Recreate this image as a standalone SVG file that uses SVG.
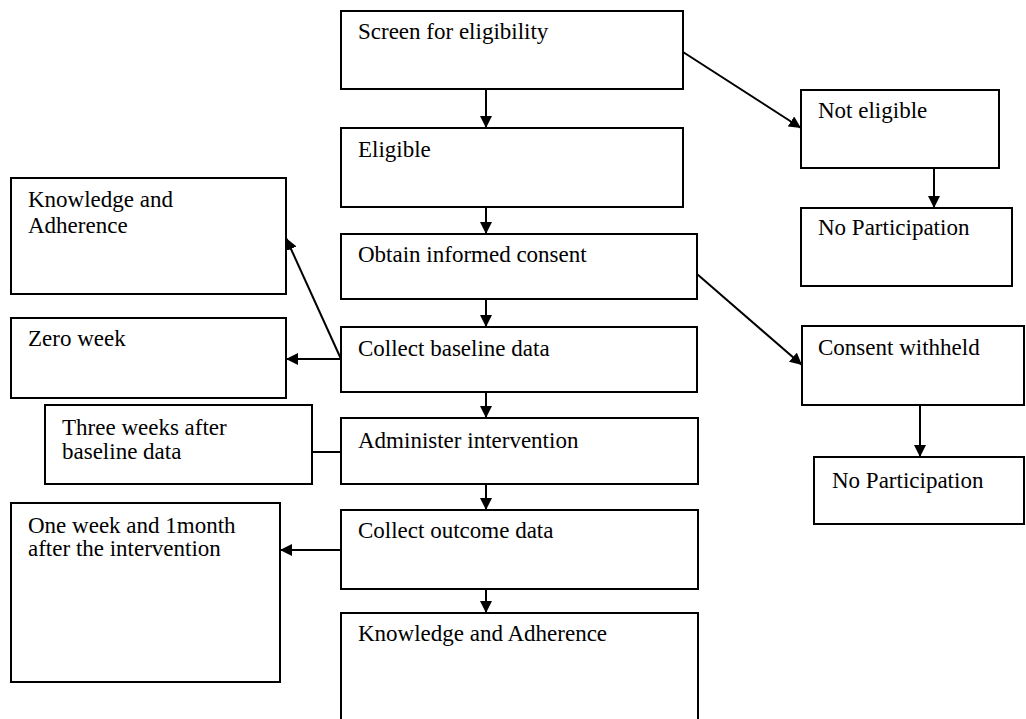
<svg xmlns="http://www.w3.org/2000/svg" width="1026" height="719" viewBox="0 0 1026 719">
<style>
.box{fill:#fff;stroke:#000;stroke-width:2}
.t{font-family:"Liberation Serif","Times New Roman",serif;font-size:23px;fill:#000}
.c{stroke:#000;stroke-width:2;fill:none}
</style>
<defs>
<marker id="ah" markerUnits="userSpaceOnUse" markerWidth="14" markerHeight="12" refX="12" refY="6" orient="auto">
<path d="M0,0 L12,6 L0,12 Z" fill="#000"/>
</marker>
</defs>
<rect width="1026" height="719" fill="#fff"/>
<g id="screen"><rect class="box" x="341" y="11" width="342" height="78"/><text class="t" x="358" y="39">Screen for eligibility</text></g>
<g id="eligible"><rect class="box" x="341" y="128" width="342" height="79"/><text class="t" x="358" y="157">Eligible</text></g>
<g id="consent"><rect class="box" x="341" y="234" width="356" height="65"/><text class="t" x="358" y="262">Obtain informed consent</text></g>
<g id="baseline"><rect class="box" x="341" y="327" width="356" height="65"/><text class="t" x="358" y="356">Collect baseline data</text></g>
<g id="intervention"><rect class="box" x="341" y="418" width="357" height="66"/><text class="t" x="358" y="448">Administer intervention</text></g>
<g id="outcome"><rect class="box" x="341" y="510" width="357" height="79"/><text class="t" x="358" y="538">Collect outcome data</text></g>
<g id="ka-bottom"><rect class="box" x="341" y="613" width="357" height="120"/><text class="t" x="358" y="641">Knowledge and Adherence</text></g>
<g id="ka-left"><rect class="box" x="11" y="178" width="275" height="116"/><text class="t" x="28" y="207">Knowledge and</text><text class="t" x="28" y="233">Adherence</text></g>
<g id="zero-week"><rect class="box" x="11" y="318" width="275" height="80"/><text class="t" x="28" y="346">Zero week</text></g>
<g id="three-weeks"><rect class="box" x="45" y="405" width="267" height="79"/><text class="t" x="62" y="435">Three weeks after</text><text class="t" x="62" y="459">baseline data</text></g>
<g id="one-week"><rect class="box" x="11" y="503" width="269" height="179"/><text class="t" x="28" y="533">One week and 1month</text><text class="t" x="28" y="556">after the intervention</text></g>
<g id="not-eligible"><rect class="box" x="801" y="90" width="198" height="78"/><text class="t" x="818" y="118">Not eligible</text></g>
<g id="no-part-1"><rect class="box" x="801" y="208" width="211" height="78"/><text class="t" x="818" y="235">No Participation</text></g>
<g id="withheld"><rect class="box" x="802" y="326" width="222" height="79"/><text class="t" x="818" y="355">Consent withheld</text></g>
<g id="no-part-2"><rect class="box" x="814" y="457" width="210" height="67"/><text class="t" x="832" y="488">No Participation</text></g>
<g id="connectors">
<line class="c" x1="486" y1="89" x2="486" y2="128" marker-end="url(#ah)"/>
<line class="c" x1="486" y1="207" x2="486" y2="234" marker-end="url(#ah)"/>
<line class="c" x1="486" y1="299" x2="486" y2="327" marker-end="url(#ah)"/>
<line class="c" x1="486" y1="392" x2="486" y2="418" marker-end="url(#ah)"/>
<line class="c" x1="486" y1="484" x2="486" y2="510" marker-end="url(#ah)"/>
<line class="c" x1="486" y1="589" x2="486" y2="613" marker-end="url(#ah)"/>
<line class="c" x1="683" y1="52" x2="801" y2="128" marker-end="url(#ah)"/>
<line class="c" x1="934" y1="168" x2="934" y2="208" marker-end="url(#ah)"/>
<line class="c" x1="697" y1="274" x2="802" y2="365" marker-end="url(#ah)"/>
<line class="c" x1="920" y1="405" x2="920" y2="457" marker-end="url(#ah)"/>
<line class="c" x1="341" y1="359" x2="286" y2="359" marker-end="url(#ah)"/>
<line class="c" x1="341" y1="359" x2="286" y2="238" marker-end="url(#ah)"/>
<line class="c" x1="312" y1="452" x2="341" y2="452"/>
<line class="c" x1="341" y1="550" x2="280" y2="550" marker-end="url(#ah)"/>
</g>
</svg>
